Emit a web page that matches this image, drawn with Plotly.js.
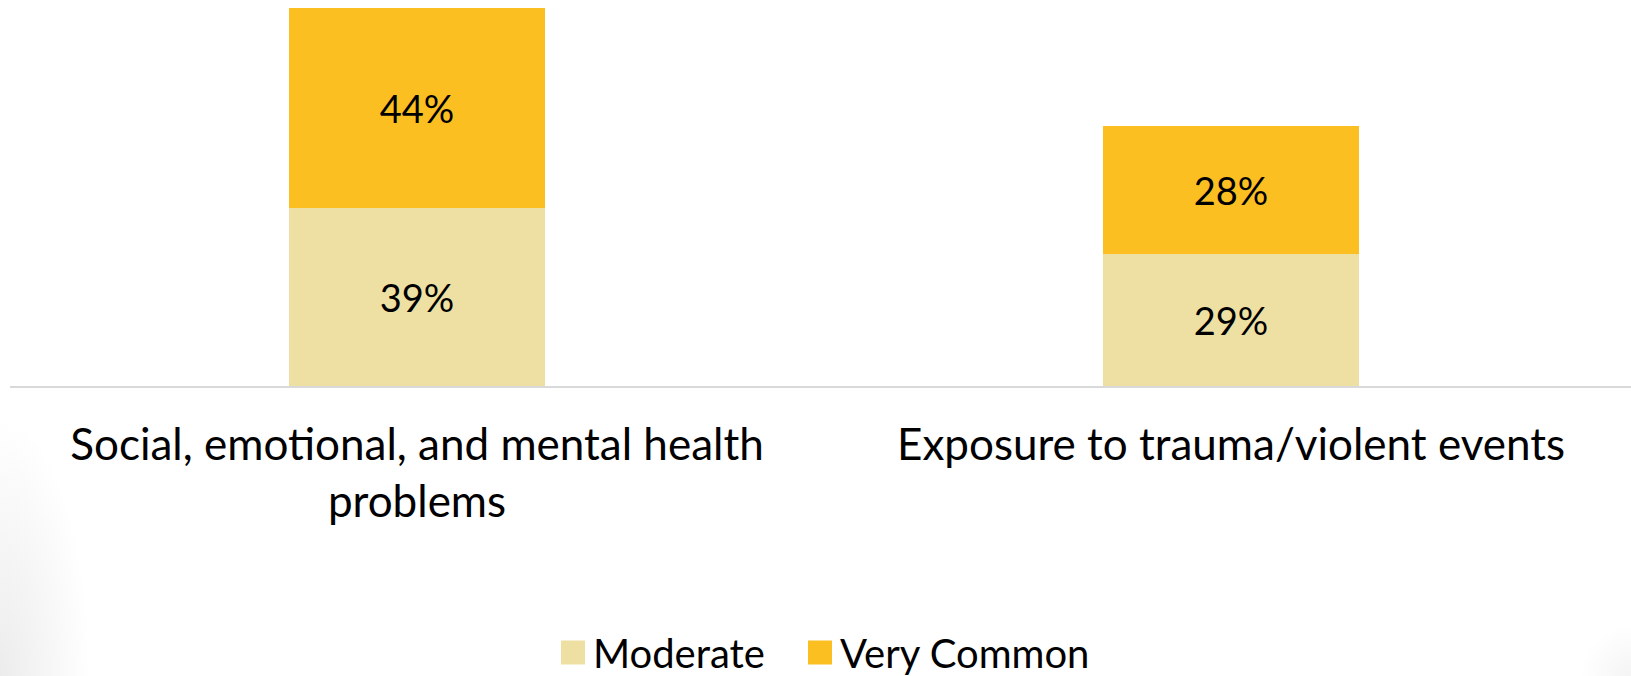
<!DOCTYPE html>
<html>
<head>
<meta charset="utf-8">
<script src="https://cdn.plot.ly/plotly-3.0.1.min.js"></script>
<style>
  html, body { margin: 0; padding: 0; background: #ffffff; overflow: hidden; }
  #chart {
    width: 1631px; height: 690px;
    background:
      radial-gradient(ellipse 90px 260px at 0px 676px, rgba(236,236,236,1) 0%, rgba(255,255,255,0) 100%),
      radial-gradient(ellipse 50px 50px at 1631px 676px, rgba(244,244,244,1) 0%, rgba(255,255,255,0) 100%),
      #ffffff;
  }
</style>
</head>
<body>
<div id="chart"></div>
<script>
// ---- data ----
const categories = [
  "Social, emotional, and mental health<br>problems",
  "Exposure to trauma/violent events"
];
const moderateValues = [39, 29];
const veryCommonValues = [44, 28];
const seriesNames = ["Moderate", "Very Common"];

const FONT = "Lato, 'Open Sans', sans-serif";

const traces = [
  {
    type: "bar",
    name: seriesNames[0],
    legend: "legend",
    x: categories,
    y: moderateValues,
    text: moderateValues.map(v => v + "%"),
    textposition: "inside",
    insidetextanchor: "middle",
    textfont: { family: FONT, size: 38, color: "#000000" },
    marker: { color: "#EEE0A3", line: { width: 0 } },
    width: 0.314,
    hoverinfo: "none"
  },
  {
    type: "bar",
    name: seriesNames[1],
    legend: "legend2",
    x: categories,
    y: veryCommonValues,
    text: veryCommonValues.map(v => v + "%"),
    textposition: "inside",
    insidetextanchor: "middle",
    textfont: { family: FONT, size: 38, color: "#000000" },
    marker: { color: "#FBBF21", line: { width: 0 } },
    width: 0.314,
    hoverinfo: "none"
  }
];

const legendBase = {
  orientation: "h",
  xanchor: "left",
  y: -0.7746,
  yanchor: "bottom",
  font: { family: FONT, size: 40, color: "#000000" },
  bgcolor: "rgba(0,0,0,0)"
};

const layout = {
  width: 1631,
  height: 690,
  barmode: "stack",
  paper_bgcolor: "rgba(0,0,0,0)",
  plot_bgcolor: "rgba(0,0,0,0)",
  margin: { l: 10, r: 0, t: 0, b: 304, pad: 0 },
  font: { family: FONT, color: "#000000" },
  showlegend: true,
  legend: Object.assign({}, legendBase, { x: (553 - 10) / 1621 }),
  legend2: Object.assign({}, legendBase, { x: (800 - 10) / 1621 }),
  xaxis: {
    type: "category",
    range: [-0.5, 1.4914],
    showgrid: false,
    zeroline: false,
    showline: true,
    linecolor: "#d9d9d9",
    linewidth: 2,
    ticks: "",
    tickfont: { family: FONT, size: 44, color: "#000000" },
    ticklabelstandoff: 19
  },
  yaxis: {
    range: [0, 84.65],
    visible: false,
    showgrid: false,
    zeroline: false
  }
};

Plotly.newPlot("chart", traces, layout, { staticPlot: true, displayModeBar: false }).then(() => {
  document.querySelectorAll("#chart .legendpoints path").forEach(p => {
    const t = p.getAttribute("transform") || "";
    p.setAttribute("transform", (t + " scale(2)").trim());
  });
});
</script>
</body>
</html>
